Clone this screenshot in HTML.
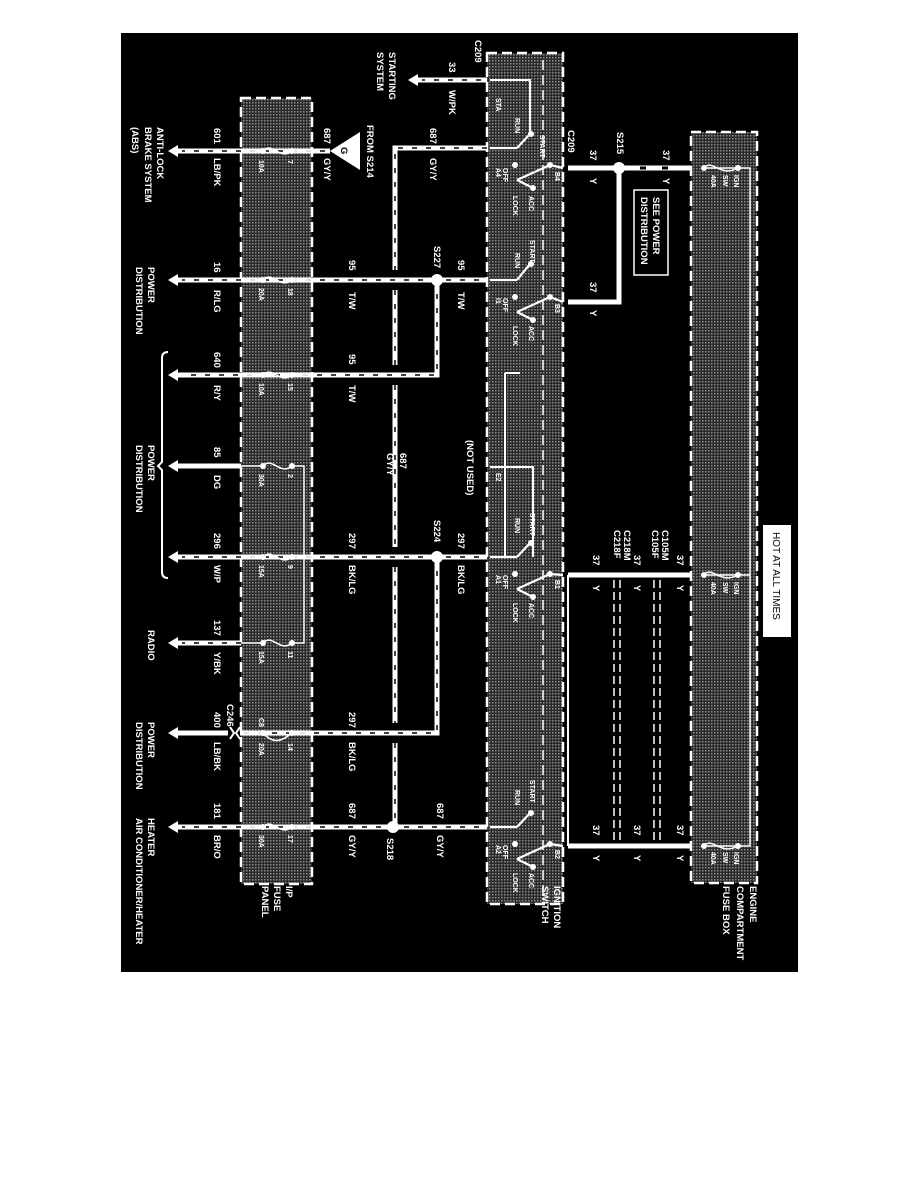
<!DOCTYPE html>
<html><head><meta charset="utf-8"><style>
html,body{margin:0;padding:0;background:#fff;}
svg{display:block}
text{font-family:"Liberation Sans",Arial,sans-serif;font-weight:bold;fill:#fff;}
.s{font-size:9.5px}
.t{font-size:7px;font-weight:normal}
</style></head><body>
<svg width="918" height="1188" viewBox="0 0 918 1188" xmlns="http://www.w3.org/2000/svg">
<defs>
<pattern id="dots" width="3" height="3" patternUnits="userSpaceOnUse">
<rect width="3" height="3" fill="#2a2a2a"/><rect width="1.5" height="1.5" fill="#8a8a8a"/>
</pattern>
<g id="arr"><polygon points="0,0 10,-6 10,-2.5 14,-2.5 14,2.5 10,2.5 10,6" fill="#fff"/></g>
</defs>
<rect x="121" y="33" width="677" height="939" fill="#000"/>

<rect x="691" y="132" width="66" height="751" fill="url(#dots)" stroke="#fff" stroke-width="2.5" stroke-dasharray="10 5"/>
<rect x="487" y="53" width="76" height="851" fill="url(#dots)" stroke="#fff" stroke-width="2.5" stroke-dasharray="10 5"/>
<line x1="543" y1="60" x2="543" y2="900" stroke="#fff" stroke-width="1.5" stroke-dasharray="10 5"/>
<rect x="241" y="98" width="71" height="786" fill="url(#dots)" stroke="#fff" stroke-width="2.5" stroke-dasharray="10 5"/>

<polyline points="702,168 750,168 750,846 702,846" fill="none" stroke="#fff" stroke-width="1.5"/>
<line x1="702" y1="575" x2="750" y2="575" stroke="#fff" stroke-width="1.5"/>
<g fill="#fff"><circle cx="704" cy="168" r="3"/><circle cx="738" cy="168" r="3"/><circle cx="704" cy="575" r="3"/><circle cx="738" cy="575" r="3"/><circle cx="704" cy="846" r="3"/><circle cx="738" cy="846" r="3"/></g>
<g fill="none" stroke="#fff" stroke-width="1.5">
<path d="M704,168 C712,158 720,178 738,168"/><path d="M704,575 C712,565 720,585 738,575"/><path d="M704,846 C712,836 720,856 738,846"/>
</g>

<g stroke="#fff" stroke-width="5" fill="none">
<line x1="568" y1="168" x2="691" y2="168"/>
<polyline points="619,168 619,302 568,302"/>
<line x1="568" y1="575" x2="691" y2="575"/>
<line x1="568" y1="846" x2="691" y2="846"/>
<line x1="568" y1="575" x2="568" y2="846" stroke-width="2"/>
</g>
<g stroke="#000" stroke-width="3"><line x1="640" y1="168" x2="646" y2="168"/><line x1="662" y1="168" x2="668" y2="168"/></g>
<g stroke="#fff" stroke-width="1.5" stroke-dasharray="8 4"><line x1="614" y1="580" x2="614" y2="842"/><line x1="620" y1="580" x2="620" y2="842"/><line x1="654" y1="580" x2="654" y2="842"/><line x1="660" y1="580" x2="660" y2="842"/></g>
<circle cx="619" cy="168" r="6" fill="#fff"/>

<g stroke="#fff" stroke-width="2" fill="none">
<polyline points="490,80 530,80 530,134"/>
<polyline points="505,373 505,557"/><polyline points="505,373 520,373"/>
<polyline points="490,467 533,467 533,557"/>
</g>
<g stroke="#fff" stroke-width="2.2" fill="none">
<g transform="translate(0,148)"><line x1="490" y1="0" x2="517" y2="0"/><path d="M517,0 L530,-14"/><line x1="517" y1="32" x2="550" y2="17"/><line x1="517" y1="32" x2="533" y2="40"/><line x1="550" y1="17" x2="563" y2="20"/></g>
<g transform="translate(0,280)"><line x1="490" y1="0" x2="517" y2="0"/><path d="M517,0 L530,-16"/><line x1="517" y1="32" x2="550" y2="17"/><line x1="517" y1="32" x2="533" y2="40"/><line x1="550" y1="17" x2="563" y2="22"/></g>
<g transform="translate(0,557)"><line x1="490" y1="0" x2="517" y2="0"/><path d="M517,0 L530,-14"/><line x1="517" y1="32" x2="550" y2="17"/><line x1="517" y1="32" x2="533" y2="40"/><line x1="550" y1="17" x2="563" y2="18"/></g>
<g transform="translate(0,827)"><line x1="490" y1="0" x2="517" y2="0"/><path d="M517,0 L530,-14"/><line x1="517" y1="32" x2="550" y2="17"/><line x1="517" y1="32" x2="533" y2="40"/><line x1="550" y1="17" x2="563" y2="19"/></g>
</g>
<g fill="#fff">
<circle cx="531" cy="134" r="3"/><circle cx="515" cy="165" r="3"/><circle cx="550" cy="165" r="3"/><circle cx="533" cy="188" r="3"/>
<circle cx="531" cy="264" r="3"/><circle cx="515" cy="297" r="3"/><circle cx="550" cy="297" r="3"/><circle cx="533" cy="320" r="3"/>
<circle cx="531" cy="543" r="3"/><circle cx="515" cy="574" r="3"/><circle cx="550" cy="574" r="3"/><circle cx="533" cy="597" r="3"/>
<circle cx="531" cy="813" r="3"/><circle cx="515" cy="844" r="3"/><circle cx="550" cy="844" r="3"/><circle cx="533" cy="867" r="3"/>
</g>

<g fill="none" stroke="#fff" stroke-width="5">
<line x1="420" y1="80" x2="487" y2="80"/>
<polyline points="487,148 395,148 395,270"/>
<line x1="395" y1="290" x2="395" y2="365"/><line x1="395" y1="385" x2="395" y2="547"/><line x1="395" y1="567" x2="395" y2="723"/><line x1="395" y1="743" x2="395" y2="827"/>
<line x1="180" y1="280" x2="487" y2="280"/>
<polyline points="437,280 437,375 180,375"/>
<line x1="180" y1="557" x2="487" y2="557"/>
<polyline points="437,557 437,733 240,733"/>
<line x1="180" y1="733" x2="228" y2="733"/>
<line x1="180" y1="827" x2="487" y2="827"/>
<line x1="180" y1="466" x2="241" y2="466"/>
<line x1="180" y1="643" x2="241" y2="643"/>
<line x1="180" y1="151" x2="330" y2="151"/>
</g>
<g fill="none" stroke="#000" stroke-width="1.5" stroke-dasharray="5 9">
<line x1="420" y1="80" x2="487" y2="80"/>
<polyline points="487,148 395,148 395,270"/>
<line x1="395" y1="290" x2="395" y2="365"/><line x1="395" y1="385" x2="395" y2="547"/><line x1="395" y1="567" x2="395" y2="723"/><line x1="395" y1="743" x2="395" y2="827"/>
<line x1="180" y1="280" x2="487" y2="280"/>
<polyline points="437,280 437,375 180,375"/>
<line x1="180" y1="557" x2="487" y2="557"/>
<polyline points="437,557 437,733 240,733"/>
<line x1="180" y1="827" x2="487" y2="827"/>
<line x1="180" y1="643" x2="241" y2="643"/>
<line x1="180" y1="151" x2="330" y2="151"/>
</g>
<g fill="none" stroke="#fff" stroke-width="1.5">
<path d="M263,151 C272,141 280,161 292,151"/><path d="M263,280 C272,270 280,290 292,280"/><path d="M263,375 C272,365 280,385 292,375"/>
<path d="M263,466 C272,456 280,476 292,466"/><path d="M263,557 C272,547 280,567 292,557"/><path d="M263,643 C272,633 280,653 292,643"/>
<path d="M263,733 C272,743 280,743 292,733"/><path d="M263,827 C272,817 280,837 292,827"/>
<polyline points="292,466 304,466 304,643 292,643"/>
<line x1="241" y1="151" x2="263" y2="151"/><line x1="292" y1="151" x2="312" y2="151"/>
<line x1="241" y1="280" x2="263" y2="280"/><line x1="292" y1="280" x2="312" y2="280"/>
<line x1="241" y1="375" x2="263" y2="375"/><line x1="292" y1="375" x2="312" y2="375"/>
<line x1="241" y1="466" x2="263" y2="466"/>
<line x1="241" y1="557" x2="263" y2="557"/><line x1="292" y1="557" x2="312" y2="557"/>
<line x1="241" y1="643" x2="263" y2="643"/>
<line x1="241" y1="733" x2="263" y2="733"/><line x1="292" y1="733" x2="312" y2="733"/>
<line x1="241" y1="827" x2="263" y2="827"/><line x1="292" y1="827" x2="312" y2="827"/>
</g>
<g fill="#fff">
<circle cx="263" cy="151" r="3"/><circle cx="292" cy="151" r="3"/><circle cx="263" cy="280" r="3"/><circle cx="292" cy="280" r="3"/>
<circle cx="263" cy="375" r="3"/><circle cx="292" cy="375" r="3"/><circle cx="263" cy="466" r="3"/><circle cx="292" cy="466" r="3"/>
<circle cx="263" cy="557" r="3"/><circle cx="292" cy="557" r="3"/><circle cx="263" cy="643" r="3"/><circle cx="292" cy="643" r="3"/>
<circle cx="263" cy="733" r="3"/><circle cx="292" cy="733" r="3"/><circle cx="263" cy="827" r="3"/><circle cx="292" cy="827" r="3"/>
<circle cx="437" cy="280" r="6"/><circle cx="437" cy="557" r="6"/><circle cx="393" cy="827" r="6"/>
</g>
<use href="#arr" x="168" y="151"/><use href="#arr" x="168" y="280"/><use href="#arr" x="168" y="375"/><use href="#arr" x="168" y="466"/>
<use href="#arr" x="168" y="557"/><use href="#arr" x="168" y="643"/><use href="#arr" x="168" y="733"/><use href="#arr" x="168" y="827"/>
<use href="#arr" x="408" y="80"/>
<g stroke="#fff" stroke-width="2" fill="none">
<path d="M230,727 L234,733 L230,739"/><path d="M240,727 L236,733 L240,739"/>
</g>
<polygon points="330,151 360,132 360,170" fill="#fff"/>
<text class="s" transform="translate(341,147) rotate(90)" style="fill:#000">G</text>
<path d="M168,352 Q162,352 162,358 L162,462 L158,466 L162,470 L162,572 Q162,578 168,578" fill="none" stroke="#fff" stroke-width="2"/>
<rect x="634" y="190" width="34" height="85" fill="#000" stroke="#fff" stroke-width="1.5"/>
<rect x="763" y="525" width="28" height="112" fill="#fff"/>
<text transform="translate(773,532) rotate(90)" style="fill:#000;font-weight:normal;font-size:10px">HOT AT ALL TIMES</text>

<g class="s">
<text transform="translate(653,197) rotate(90)">SEE POWER</text>
<text transform="translate(641,197) rotate(90)">DISTRIBUTION</text>
<text transform="translate(750,886) rotate(90)">ENGINE</text>
<text transform="translate(737,886) rotate(90)">COMPARTMENT</text>
<text transform="translate(723,886) rotate(90)">FUSE BOX</text>
<text transform="translate(554,886) rotate(90)">IGNITION</text>
<text transform="translate(542,886) rotate(90)">SWITCH</text>
<text transform="translate(286,886) rotate(90)">I/P</text>
<text transform="translate(274,886) rotate(90)">FUSE</text>
<text transform="translate(262,886) rotate(90)">PANEL</text>
<text transform="translate(148,818) rotate(90)">HEATER</text>
<text transform="translate(136,818) rotate(90)">AIR CONDITIONER/HEATER</text>
<text transform="translate(148,722) rotate(90)">POWER</text>
<text transform="translate(136,722) rotate(90)">DISTRIBUTION</text>
<text transform="translate(148,630) rotate(90)">RADIO</text>
<text transform="translate(148,445) rotate(90)">POWER</text>
<text transform="translate(136,445) rotate(90)">DISTRIBUTION</text>
<text transform="translate(148,267) rotate(90)">POWER</text>
<text transform="translate(136,267) rotate(90)">DISTRIBUTION</text>
<text transform="translate(157,127) rotate(90)">ANTI-LOCK</text>
<text transform="translate(145,127) rotate(90)">BRAKE SYSTEM</text>
<text transform="translate(132,127) rotate(90)">(ABS)</text>
<text transform="translate(389,52) rotate(90)">STARTING</text>
<text transform="translate(377,52) rotate(90)">SYSTEM</text>
<text transform="translate(475,40) rotate(90)">C209</text>
<text transform="translate(449,62) rotate(90)">33</text>
<text transform="translate(449,90) rotate(90)">W/PK</text>
<text transform="translate(430,128) rotate(90)">687</text>
<text transform="translate(430,158) rotate(90)">GY/Y</text>
<text transform="translate(568,130) rotate(90)">C209</text>
<text transform="translate(590,150) rotate(90)">37</text>
<text transform="translate(590,178) rotate(90)">Y</text>
<text transform="translate(617,132) rotate(90)">S215</text>
<text transform="translate(663,150) rotate(90)">37</text>
<text transform="translate(663,178) rotate(90)">Y</text>
<text transform="translate(590,282) rotate(90)">37</text>
<text transform="translate(590,310) rotate(90)">Y</text>
<text transform="translate(434,246) rotate(90)">S227</text>
<text transform="translate(458,260) rotate(90)">95</text>
<text transform="translate(458,292) rotate(90)">T/W</text>
<text transform="translate(349,260) rotate(90)">95</text>
<text transform="translate(349,292) rotate(90)">T/W</text>
<text transform="translate(349,354) rotate(90)">95</text>
<text transform="translate(349,385) rotate(90)">T/W</text>
<text transform="translate(324,128) rotate(90)">687</text>
<text transform="translate(324,158) rotate(90)">GY/Y</text>
<text transform="translate(367,125) rotate(90)">FROM S214</text>
<text transform="translate(214,128) rotate(90)">601</text>
<text transform="translate(214,158) rotate(90)">LB/PK</text>
<text transform="translate(214,262) rotate(90)">16</text>
<text transform="translate(214,290) rotate(90)">R/LG</text>
<text transform="translate(214,352) rotate(90)">640</text>
<text transform="translate(214,385) rotate(90)">R/Y</text>
<text transform="translate(214,447) rotate(90)">85</text>
<text transform="translate(214,475) rotate(90)">DG</text>
<text transform="translate(214,533) rotate(90)">296</text>
<text transform="translate(214,565) rotate(90)">W/P</text>
<text transform="translate(214,620) rotate(90)">137</text>
<text transform="translate(214,652) rotate(90)">Y/BK</text>
<text transform="translate(227,704) rotate(90)">C246</text>
<text transform="translate(214,712) rotate(90)">400</text>
<text transform="translate(214,742) rotate(90)">LB/BK</text>
<text transform="translate(214,803) rotate(90)">181</text>
<text transform="translate(214,835) rotate(90)">BR/O</text>
<text transform="translate(400,453) rotate(90)">687</text>
<text transform="translate(387,453) rotate(90)">GY/Y</text>
<text transform="translate(467,440) rotate(90)">(NOT USED)</text>
<text transform="translate(458,533) rotate(90)">297</text>
<text transform="translate(458,565) rotate(90)">BK/LG</text>
<text transform="translate(434,520) rotate(90)">S224</text>
<text transform="translate(349,533) rotate(90)">297</text>
<text transform="translate(349,565) rotate(90)">BK/LG</text>
<text transform="translate(349,712) rotate(90)">297</text>
<text transform="translate(349,742) rotate(90)">BK/LG</text>
<text transform="translate(349,803) rotate(90)">687</text>
<text transform="translate(349,835) rotate(90)">GY/Y</text>
<text transform="translate(437,803) rotate(90)">687</text>
<text transform="translate(437,835) rotate(90)">GY/Y</text>
<text transform="translate(387,838) rotate(90)">S218</text>
<text transform="translate(662,530) rotate(90)">C105M</text>
<text transform="translate(652,530) rotate(90)">C105F</text>
<text transform="translate(624,530) rotate(90)">C218M</text>
<text transform="translate(614,530) rotate(90)">C218F</text>
<text transform="translate(677,555) rotate(90)">37</text>
<text transform="translate(677,585) rotate(90)">Y</text>
<text transform="translate(634,555) rotate(90)">37</text>
<text transform="translate(634,585) rotate(90)">Y</text>
<text transform="translate(593,555) rotate(90)">37</text>
<text transform="translate(593,585) rotate(90)">Y</text>
<text transform="translate(677,825) rotate(90)">37</text>
<text transform="translate(677,855) rotate(90)">Y</text>
<text transform="translate(634,825) rotate(90)">37</text>
<text transform="translate(634,855) rotate(90)">Y</text>
<text transform="translate(593,825) rotate(90)">37</text>
<text transform="translate(593,855) rotate(90)">Y</text>
</g>
<g class="t">
<text transform="translate(734,175) rotate(90)">IGN</text><text transform="translate(723,175) rotate(90)">SW</text><text transform="translate(711,175) rotate(90)">40A</text>
<text transform="translate(734,582) rotate(90)">IGN</text><text transform="translate(723,582) rotate(90)">SW</text><text transform="translate(711,582) rotate(90)">40A</text>
<text transform="translate(734,852) rotate(90)">IGN</text><text transform="translate(723,852) rotate(90)">SW</text><text transform="translate(711,852) rotate(90)">40A</text>
<text transform="translate(496,98) rotate(90)">STA</text>
<text transform="translate(515,118) rotate(90)">RUN</text><text transform="translate(540,135) rotate(90)">START</text>
<text transform="translate(503,168) rotate(90)">OFF</text><text transform="translate(496,168) rotate(90)">A4</text>
<text transform="translate(513,196) rotate(90)">LOCK</text><text transform="translate(529,196) rotate(90)">ACC</text><text transform="translate(555,172) rotate(90)">B4</text>
<text transform="translate(515,253) rotate(90)">RUN</text><text transform="translate(530,240) rotate(90)">START</text>
<text transform="translate(503,298) rotate(90)">OFF</text><text transform="translate(496,298) rotate(90)">I1</text>
<text transform="translate(513,326) rotate(90)">LOCK</text><text transform="translate(529,326) rotate(90)">ACC</text><text transform="translate(555,304) rotate(90)">B3</text>
<text transform="translate(496,473) rotate(90)">E2</text>
<text transform="translate(515,518) rotate(90)">RUN</text><text transform="translate(530,513) rotate(90)">START</text>
<text transform="translate(503,575) rotate(90)">OFF</text><text transform="translate(496,575) rotate(90)">A1</text>
<text transform="translate(513,603) rotate(90)">LOCK</text><text transform="translate(529,603) rotate(90)">ACC</text><text transform="translate(555,580) rotate(90)">B1</text>
<text transform="translate(515,790) rotate(90)">RUN</text><text transform="translate(530,780) rotate(90)">START</text>
<text transform="translate(503,845) rotate(90)">OFF</text><text transform="translate(496,845) rotate(90)">A2</text>
<text transform="translate(513,873) rotate(90)">LOCK</text><text transform="translate(529,873) rotate(90)">ACC</text><text transform="translate(555,850) rotate(90)">B2</text>
<text transform="translate(288,160) rotate(90)">7</text><text transform="translate(259,160) rotate(90)">10A</text>
<text transform="translate(288,288) rotate(90)">18</text><text transform="translate(259,288) rotate(90)">20A</text>
<text transform="translate(288,383) rotate(90)">15</text><text transform="translate(259,383) rotate(90)">10A</text>
<text transform="translate(288,474) rotate(90)">2</text><text transform="translate(259,474) rotate(90)">30A</text>
<text transform="translate(288,565) rotate(90)">9</text><text transform="translate(259,565) rotate(90)">15A</text>
<text transform="translate(288,651) rotate(90)">11</text><text transform="translate(259,651) rotate(90)">15A</text>
<text transform="translate(259,718) rotate(90)">C8</text>
<text transform="translate(288,743) rotate(90)">14</text><text transform="translate(259,743) rotate(90)">20A</text>
<text transform="translate(288,835) rotate(90)">17</text><text transform="translate(259,835) rotate(90)">30A</text>
</g>
</svg>
</body></html>
